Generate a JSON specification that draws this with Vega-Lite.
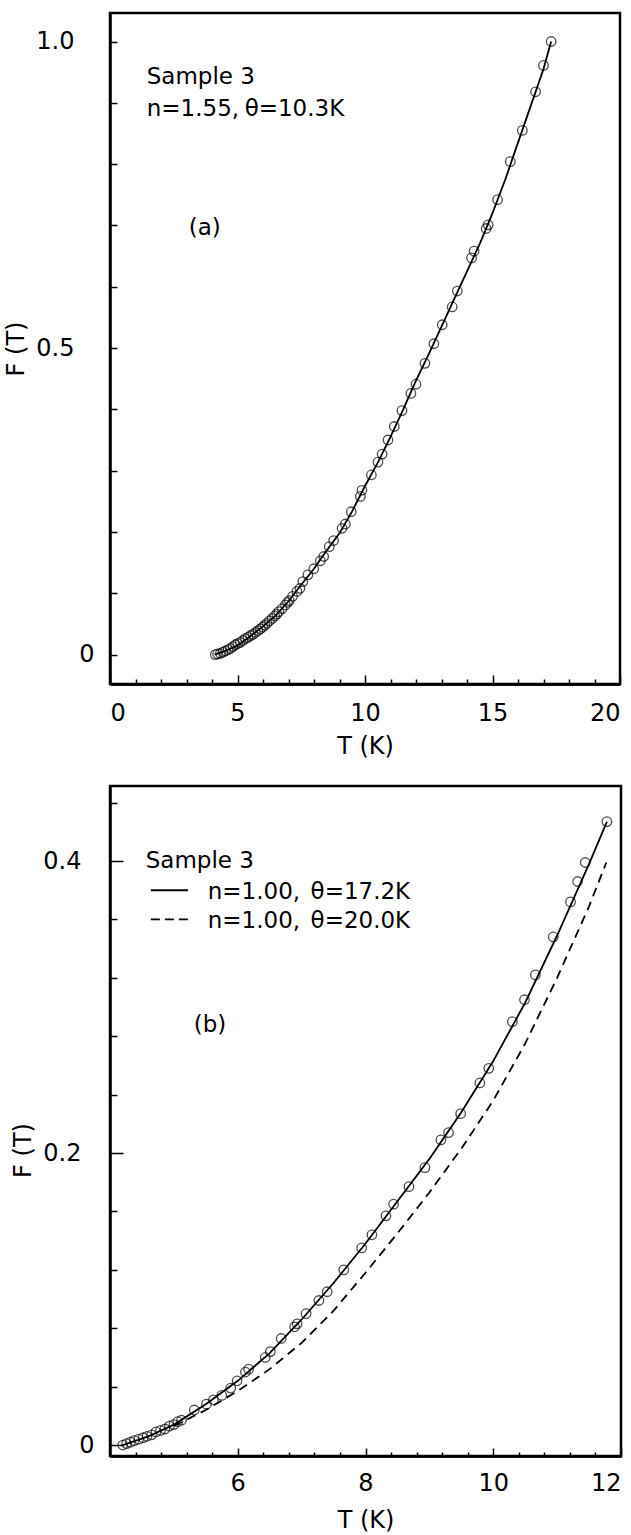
{
  "$schema": "https://vega.github.io/schema/vega-lite/v6.json",
  "autosize": {"type": "pad"},
  "padding": {"left": 3, "top": 11, "right": 0, "bottom": 10},
  "spacing": 102,
  "bounds": "flush",
  "background": "white",
  "datasets": {
    "a_pts": [
      {"T": 4.13, "F": 0.000}, {"T": 4.22, "F": 0.001}, {"T": 4.33, "F": 0.002}, {"T": 4.43, "F": 0.004},
      {"T": 4.53, "F": 0.006}, {"T": 4.63, "F": 0.008}, {"T": 4.72, "F": 0.010}, {"T": 4.82, "F": 0.013},
      {"T": 4.92, "F": 0.016}, {"T": 5.01, "F": 0.018}, {"T": 5.11, "F": 0.020}, {"T": 5.21, "F": 0.023},
      {"T": 5.31, "F": 0.026}, {"T": 5.41, "F": 0.028}, {"T": 5.51, "F": 0.031}, {"T": 5.60, "F": 0.033},
      {"T": 5.70, "F": 0.036}, {"T": 5.80, "F": 0.039}, {"T": 5.90, "F": 0.042}, {"T": 5.99, "F": 0.045},
      {"T": 6.07, "F": 0.048}, {"T": 6.16, "F": 0.051}, {"T": 6.25, "F": 0.055}, {"T": 6.36, "F": 0.059},
      {"T": 6.46, "F": 0.063}, {"T": 6.54, "F": 0.066}, {"T": 6.62, "F": 0.070}, {"T": 6.75, "F": 0.075},
      {"T": 6.88, "F": 0.081}, {"T": 6.96, "F": 0.085}, {"T": 7.03, "F": 0.088}, {"T": 7.16, "F": 0.095},
      {"T": 7.33, "F": 0.103}, {"T": 7.45, "F": 0.108}, {"T": 7.56, "F": 0.119}, {"T": 7.76, "F": 0.130},
      {"T": 7.99, "F": 0.140}, {"T": 8.25, "F": 0.153}, {"T": 8.38, "F": 0.160}, {"T": 8.60, "F": 0.176},
      {"T": 8.77, "F": 0.186}, {"T": 9.10, "F": 0.206}, {"T": 9.23, "F": 0.213}, {"T": 9.46, "F": 0.233},
      {"T": 9.82, "F": 0.258}, {"T": 9.88, "F": 0.268}, {"T": 10.25, "F": 0.293}, {"T": 10.51, "F": 0.314},
      {"T": 10.67, "F": 0.327}, {"T": 10.90, "F": 0.350}, {"T": 11.15, "F": 0.372}, {"T": 11.45, "F": 0.398},
      {"T": 11.80, "F": 0.426}, {"T": 12.00, "F": 0.441}, {"T": 12.35, "F": 0.475}, {"T": 12.70, "F": 0.507},
      {"T": 13.03, "F": 0.538}, {"T": 13.42, "F": 0.567}, {"T": 13.62, "F": 0.593}, {"T": 14.18, "F": 0.647},
      {"T": 14.28, "F": 0.658}, {"T": 14.75, "F": 0.695}, {"T": 14.83, "F": 0.701}, {"T": 15.20, "F": 0.742},
      {"T": 15.70, "F": 0.804}, {"T": 16.17, "F": 0.855}, {"T": 16.69, "F": 0.918}, {"T": 17.00, "F": 0.961},
      {"T": 17.30, "F": 1.000}
    ],
    "a_fit": [
      {"T": 4.1, "F": 0.0}, {"T": 4.5, "F": 0.0055}, {"T": 5.0, "F": 0.015}, {"T": 5.5, "F": 0.030},
      {"T": 6.0, "F": 0.046}, {"T": 6.5, "F": 0.064}, {"T": 7.0, "F": 0.087}, {"T": 7.5, "F": 0.114},
      {"T": 8.0, "F": 0.140}, {"T": 8.5, "F": 0.170}, {"T": 9.0, "F": 0.198}, {"T": 9.5, "F": 0.234},
      {"T": 10.0, "F": 0.275}, {"T": 10.5, "F": 0.313}, {"T": 11.0, "F": 0.355}, {"T": 11.5, "F": 0.400},
      {"T": 12.0, "F": 0.447}, {"T": 12.5, "F": 0.490}, {"T": 13.0, "F": 0.535}, {"T": 13.5, "F": 0.580},
      {"T": 14.0, "F": 0.625}, {"T": 14.5, "F": 0.670}, {"T": 15.0, "F": 0.720}, {"T": 15.5, "F": 0.775},
      {"T": 16.0, "F": 0.835}, {"T": 16.5, "F": 0.895}, {"T": 17.0, "F": 0.955}, {"T": 17.3, "F": 1.0}
    ],
    "a_text": [
      {"T": 1.44, "F": 0.931, "label": "Sample 3"},
      {"T": 1.44, "F": 0.878, "label": "n=1.55,"},
      {"T": 5.28, "F": 0.878, "label": "θ=10.3K"},
      {"T": 3.09, "F": 0.684, "label": "(a)"}
    ],
    "b_pts": [
      {"T": 4.20, "F": 0.000}, {"T": 4.26, "F": 0.001}, {"T": 4.32, "F": 0.002}, {"T": 4.38, "F": 0.003},
      {"T": 4.45, "F": 0.004}, {"T": 4.52, "F": 0.005}, {"T": 4.58, "F": 0.006}, {"T": 4.65, "F": 0.007},
      {"T": 4.72, "F": 0.009}, {"T": 4.79, "F": 0.010}, {"T": 4.86, "F": 0.011}, {"T": 4.93, "F": 0.013},
      {"T": 5.00, "F": 0.014}, {"T": 5.06, "F": 0.016}, {"T": 5.12, "F": 0.017}, {"T": 5.32, "F": 0.024},
      {"T": 5.51, "F": 0.028}, {"T": 5.62, "F": 0.031}, {"T": 5.75, "F": 0.034}, {"T": 5.89, "F": 0.039},
      {"T": 5.99, "F": 0.044}, {"T": 6.12, "F": 0.050}, {"T": 6.17, "F": 0.052}, {"T": 6.43, "F": 0.060},
      {"T": 6.51, "F": 0.064}, {"T": 6.68, "F": 0.073}, {"T": 6.89, "F": 0.081}, {"T": 6.93, "F": 0.083},
      {"T": 7.07, "F": 0.090}, {"T": 7.27, "F": 0.099}, {"T": 7.40, "F": 0.105}, {"T": 7.66, "F": 0.120},
      {"T": 7.94, "F": 0.135}, {"T": 8.10, "F": 0.144}, {"T": 8.32, "F": 0.157}, {"T": 8.44, "F": 0.165},
      {"T": 8.68, "F": 0.177}, {"T": 8.93, "F": 0.190}, {"T": 9.18, "F": 0.209}, {"T": 9.30, "F": 0.214},
      {"T": 9.49, "F": 0.227}, {"T": 9.79, "F": 0.248}, {"T": 9.93, "F": 0.258}, {"T": 10.30, "F": 0.290},
      {"T": 10.49, "F": 0.305}, {"T": 10.66, "F": 0.322}, {"T": 10.94, "F": 0.348}, {"T": 11.21, "F": 0.372},
      {"T": 11.32, "F": 0.386}, {"T": 11.44, "F": 0.399}, {"T": 11.78, "F": 0.427}
    ],
    "b_fit": [
      {"T": 4.2, "F": 0.000}, {"T": 4.6, "F": 0.006}, {"T": 5.0, "F": 0.014}, {"T": 5.5, "F": 0.028},
      {"T": 6.0, "F": 0.044}, {"T": 6.5, "F": 0.063}, {"T": 7.0, "F": 0.086}, {"T": 7.5, "F": 0.111},
      {"T": 8.0, "F": 0.138}, {"T": 8.5, "F": 0.167}, {"T": 9.0, "F": 0.196}, {"T": 9.5, "F": 0.228},
      {"T": 10.0, "F": 0.263}, {"T": 10.5, "F": 0.303}, {"T": 11.0, "F": 0.349}, {"T": 11.5, "F": 0.398},
      {"T": 11.78, "F": 0.427}
    ],
    "b_dash": [
      {"T": 5.0, "F": 0.013}, {"T": 5.5, "F": 0.024}, {"T": 6.0, "F": 0.037}, {"T": 6.5, "F": 0.052},
      {"T": 7.0, "F": 0.070}, {"T": 7.5, "F": 0.092}, {"T": 8.0, "F": 0.118}, {"T": 8.5, "F": 0.145},
      {"T": 9.0, "F": 0.173}, {"T": 9.5, "F": 0.203}, {"T": 10.0, "F": 0.236}, {"T": 10.5, "F": 0.275},
      {"T": 11.0, "F": 0.320}, {"T": 11.5, "F": 0.369}, {"T": 11.77, "F": 0.399}
    ],
    "b_text": [
      {"T": 4.56, "F": 0.395, "label": "Sample 3"},
      {"T": 5.53, "F": 0.374, "label": "n=1.00,"},
      {"T": 7.14, "F": 0.374, "label": "θ=17.2K"},
      {"T": 5.53, "F": 0.354, "label": "n=1.00,"},
      {"T": 7.14, "F": 0.354, "label": "θ=20.0K"},
      {"T": 5.31, "F": 0.283, "label": "(b)"}
    ],
    "b_leg": [
      {"T": 4.64, "T2": 5.22, "F": 0.380, "kind": "solid"},
      {"T": 4.64, "T2": 5.22, "F": 0.360, "kind": "dashed"}
    ]
  },
  "vconcat": [
    {
      "width": 510,
      "height": 671,
      "resolve": {"axis": {"x": "independent"}},
      "layer": [
        {
          "data": {"name": "a_fit"},
          "mark": {"type": "line", "color": "black", "strokeWidth": 1.8},
          "encoding": {
            "x": {
              "field": "T", "type": "quantitative",
              "scale": {"domain": [0, 20], "nice": false, "zero": false},
              "axis": {
                "orient": "bottom",
                "title": null,
                "values": [1, 2, 3, 4, 6, 7, 8, 9, 11, 12, 13, 14, 16, 17, 18, 19],
                "labels": false,
                "tickSize": -5
              }
            },
            "y": {
              "field": "F", "type": "quantitative",
              "scale": {"domain": [-0.048, 1.0465], "nice": false, "zero": false},
              "axis": {
                "title": "F (T)",
                "values": [0, 0.1, 0.2, 0.3, 0.4, 0.5, 0.6, 0.7, 0.8, 0.9, 1.0],
                "labelExpr": "datum.value === 0 ? '0' : datum.value === 0.5 ? '0.5' : datum.value === 1 ? '1.0' : ''",
                "labelOverlap": false,
                "tickSize": -7,
                "labelPadding": {"condition": {"test": "datum.value === 0", "value": 23}, "value": 43},
                "titlePadding": 7
              }
            }
          }
        },
        {
          "data": {"name": "a_pts"},
          "mark": {"type": "point", "shape": "circle", "filled": false, "color": "black", "size": 90, "strokeWidth": 1.3},
          "encoding": {
            "x": {
              "field": "T", "type": "quantitative",
              "axis": {
                "orient": "bottom",
                "title": "T (K)",
                "values": [0, 5, 10, 15, 20],
                "labelExpr": "datum.value === 0 ? '0' : datum.value === 5 ? '5' : datum.value === 10 ? '10' : datum.value === 15 ? '15' : '20'",
                "labelOverlap": false,
                "labelFlush": true,
                "tickSize": -9,
                "labelPadding": 26,
                "titlePadding": 9
              }
            },
            "y": {"field": "F", "type": "quantitative"}
          }
        },
        {
          "data": {"name": "a_text"},
          "mark": {"type": "text", "align": "left", "baseline": "alphabetic", "font": "DejaVu Sans", "fontSize": 23, "color": "black"},
          "encoding": {
            "x": {"field": "T", "type": "quantitative", "axis": null},
            "y": {"field": "F", "type": "quantitative"},
            "text": {"field": "label"}
          }
        }
      ]
    },
    {
      "width": 511,
      "height": 670,
      "resolve": {"axis": {"x": "independent"}},
      "layer": [
        {
          "data": {"name": "b_fit"},
          "mark": {"type": "line", "color": "black", "strokeWidth": 1.8},
          "encoding": {
            "x": {
              "field": "T", "type": "quantitative",
              "scale": {"domain": [4, 12], "nice": false, "zero": false},
              "axis": {
                "orient": "bottom",
                "title": null,
                "values": [4.4, 4.8, 5.2, 5.6, 6.4, 6.8, 7.2, 7.6, 8.4, 8.8, 9.2, 9.6, 10.4, 10.8, 11.2, 11.6],
                "labels": false,
                "tickSize": -4
              }
            },
            "y": {
              "field": "F", "type": "quantitative",
              "scale": {"domain": [-0.0075, 0.4514], "nice": false, "zero": false},
              "axis": {
                "title": "F (T)",
                "titleY": 364,
                "values": [0, 0.02, 0.04, 0.06, 0.08, 0.1, 0.12, 0.14, 0.16, 0.18, 0.2, 0.22, 0.24, 0.26, 0.28, 0.3, 0.32, 0.34, 0.36, 0.38, 0.4, 0.42, 0.44],
                "labelExpr": "datum.value === 0 ? '0' : datum.value === 0.2 ? '0.2' : datum.value === 0.4 ? '0.4' : ''",
                "labelOverlap": false,
                "tickSize": {"condition": {"test": "datum.value === 0 || datum.value === 0.2 || datum.value === 0.4", "value": -13}, "value": -7},
                "labelPadding": {"condition": {"test": "datum.value === 0", "value": 29}, "value": 42},
                "titlePadding": 7
              }
            }
          }
        },
        {
          "data": {"name": "b_dash"},
          "mark": {"type": "line", "color": "black", "strokeWidth": 1.8, "strokeDash": [9, 6]},
          "encoding": {
            "x": {"field": "T", "type": "quantitative", "axis": null},
            "y": {"field": "F", "type": "quantitative"}
          }
        },
        {
          "data": {"name": "b_pts"},
          "mark": {"type": "point", "shape": "circle", "filled": false, "color": "black", "size": 90, "strokeWidth": 1.3},
          "encoding": {
            "x": {
              "field": "T", "type": "quantitative",
              "axis": {
                "orient": "bottom",
                "title": "T (K)",
                "values": [6, 8, 10, 12],
                "labelExpr": "datum.value === 6 ? '6' : datum.value === 8 ? '8' : datum.value === 10 ? '10' : '12'",
                "labelOverlap": false,
                "labelFlush": true,
                "tickSize": -8,
                "labelPadding": 23,
                "titlePadding": 13
              }
            },
            "y": {"field": "F", "type": "quantitative"}
          }
        },
        {
          "data": {"name": "b_leg"},
          "transform": [{"filter": "datum.kind === 'solid'"}],
          "mark": {"type": "rule", "color": "black", "strokeWidth": 1.8},
          "encoding": {
            "x": {"field": "T", "type": "quantitative", "axis": null},
            "x2": {"field": "T2"},
            "y": {"field": "F", "type": "quantitative"}
          }
        },
        {
          "data": {"name": "b_leg"},
          "transform": [{"filter": "datum.kind === 'dashed'"}],
          "mark": {"type": "rule", "color": "black", "strokeWidth": 1.8, "strokeDash": [9, 5]},
          "encoding": {
            "x": {"field": "T", "type": "quantitative", "axis": null},
            "x2": {"field": "T2"},
            "y": {"field": "F", "type": "quantitative"}
          }
        },
        {
          "data": {"name": "b_text"},
          "mark": {"type": "text", "align": "left", "baseline": "alphabetic", "font": "DejaVu Sans", "fontSize": 23, "color": "black"},
          "encoding": {
            "x": {"field": "T", "type": "quantitative", "axis": null},
            "y": {"field": "F", "type": "quantitative"},
            "text": {"field": "label"}
          }
        }
      ]
    }
  ],
  "config": {
    "font": "DejaVu Sans",
    "view": {"stroke": "black", "strokeWidth": 2.5},
    "axis": {
      "domainColor": "black", "domainWidth": 2.5,
      "tickColor": "black", "tickWidth": 1.5,
      "labelFont": "DejaVu Sans", "labelFontSize": 24, "labelColor": "black",
      "titleFont": "DejaVu Sans", "titleFontSize": 24, "titleFontWeight": "normal", "titleColor": "black",
      "grid": false, "labelOverlap": false, "labelBound": false
    }
  }
}
